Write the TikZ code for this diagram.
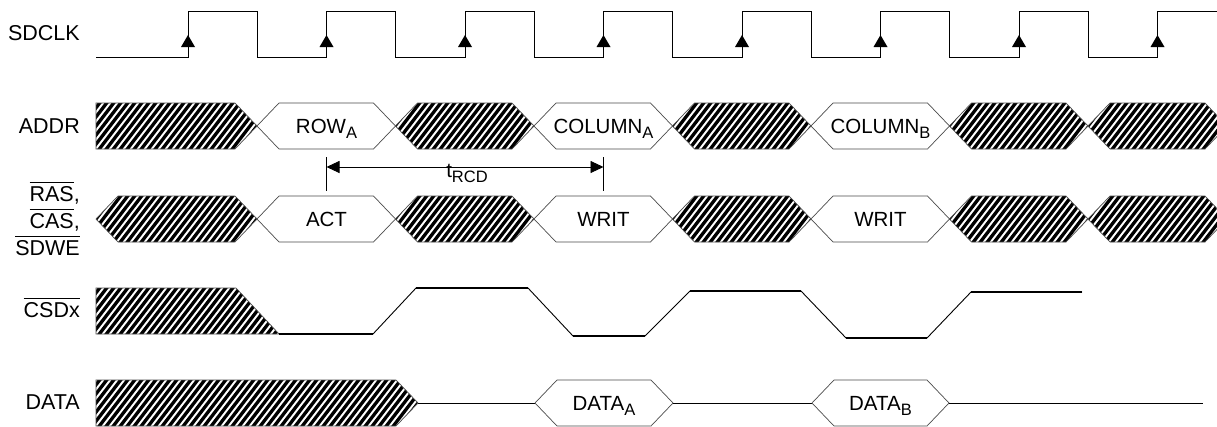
\documentclass[tikz,border=0pt]{standalone}
\usepackage{fontspec}
\setmainfont{Liberation Sans}
\usetikzlibrary{arrows.meta}
\newcommand\sub[1]{\raisebox{-0.28em}{\fontsize{16.5}{16.5}\selectfont #1}}
\newcommand\ovl[1]{\vbox{\hrule height 1.3pt\kern 2.6pt\hbox{#1}}}
\newcommand\hatchreg[4]{%
  \begin{scope}
    \clip #1;
    \pgfmathtruncatemacro\hsA{#2-48}\pgfmathtruncatemacro\hsB{\hsA+7}
    \foreach \i in {\hsA,\hsB,...,#3} \draw[hatchln] (\i,#4+26) -- ++(40,-52);
  \end{scope}
  \draw[outl] #1;}
\newcommand\hathex[3]{\hatchreg{(#1,#3) -- ({#1+22},{#3-23}) -- ({#2-22},{#3-23}) -- (#2,#3) -- ({#2-22},{#3+23}) -- ({#1+22},{#3+23}) -- cycle}{#1}{#2}{#3}}
\newcommand\whitehex[3]{\draw[outl] (#1,#3) -- ({#1+22},{#3-23}) -- ({#2-22},{#3-23}) -- (#2,#3) -- ({#2-22},{#3+23}) -- ({#1+22},{#3+23}) -- cycle;}
\newcommand\clkarrow[1]{\fill (#1,35) -- (#1-7,47) -- (#1+7,47) -- cycle;}
\tikzset{
  lbl/.style={font=\fontsize{20.5}{24}\selectfont, inner sep=0pt},
  sidelbl/.style={font=\fontsize{21.5}{24}\selectfont, inner sep=0pt, anchor=base east},
  outl/.style={line width=0.7pt, draw=black!70},
  hatchln/.style={line width=3.3pt, black},
  clk/.style={line width=1pt, black},
  thin/.style={line width=0.9pt, black},
  lvl/.style={line width=1.9pt, black},
}
\begin{document}
\begin{tikzpicture}[x=1pt,y=-1pt]
\useasboundingbox (0,0) rectangle (1217,426);
\fill[white] (0,0) rectangle (1217,426);

% labels
\node[sidelbl] (lsdclk) at (80,40) {SDCLK};
\node[sidelbl] (laddr) at (80,133) {ADDR};
\node[sidelbl] (lras) at (80,201) {\ovl{RAS},};
\node[sidelbl] (lcas) at (80,228) {\ovl{CAS},};
\node[sidelbl] (lsdwe) at (80,255) {\ovl{SDWE}};
\node[sidelbl] (lcsdx) at (80,317) {\ovl{CSDx}};
\node[sidelbl] (ldata) at (80,409) {DATA};

% SDCLK
\draw[clk] (96,57) -- (188,57) -- (188,11) -- (257,11) -- (257,57)
  -- (326.5,57) -- (326.5,11) -- (395.5,11) -- (395.5,57)
  -- (465,57) -- (465,11) -- (534,11) -- (534,57)
  -- (603.5,57) -- (603.5,11) -- (672.5,11) -- (672.5,57)
  -- (742,57) -- (742,11) -- (811,11) -- (811,57)
  -- (880.5,57) -- (880.5,11) -- (949.5,11) -- (949.5,57)
  -- (1019,57) -- (1019,11) -- (1088,11) -- (1088,57)
  -- (1157.5,57) -- (1157.5,11) -- (1217,11);
\clkarrow{188}\clkarrow{326.5}\clkarrow{465}\clkarrow{603.5}
\clkarrow{742}\clkarrow{880.5}\clkarrow{1019}\clkarrow{1157.5}

% ADDR
\hatchreg{(96,103) -- (235,103) -- (257,126) -- (235,149) -- (96,149) -- cycle}{96}{257}{126}
\whitehex{257}{395.5}{126}
\node[lbl,anchor=base] (rowa) at (326.5,133) {ROW\sub{A}};
\hathex{395.5}{534}{126}
\whitehex{534}{672.5}{126}
\node[lbl,anchor=base] (cola) at (603.5,133) {COLUMN\sub{A}};
\hathex{672.5}{811}{126}
\whitehex{811}{949.5}{126}
\node[lbl,anchor=base] (colb) at (880.5,133) {COLUMN\sub{B}};
\hathex{949.5}{1088}{126}
\hathex{1088}{1227}{126}

% tRCD
\coordinate (ta) at (326.5,167);
\coordinate (tb) at (603.5,167);
\draw[thin] (326.5,157) -- (326.5,191);
\draw[thin] (603.5,157) -- (603.5,191);
\draw[thin,{Triangle[length=13pt,width=12pt]}-{Triangle[length=13pt,width=12pt]}] (ta) -- (tb);
\node[lbl,anchor=base] (trcd) at (467,177) {t\sub{RCD}};

% RAS/CAS/SDWE
\hathex{96}{257}{219}
\whitehex{257}{395.5}{219}
\node[lbl,anchor=base] (act) at (326.5,226) {ACT};
\hathex{395.5}{534}{219}
\whitehex{534}{672.5}{219}
\node[lbl,anchor=base] (writa) at (603.5,226) {WRIT};
\hathex{672.5}{811}{219}
\whitehex{811}{949.5}{219}
\node[lbl,anchor=base] (writb) at (880.5,226) {WRIT};
\hathex{949.5}{1088}{219}
\hathex{1088}{1227}{219}

% CSDx
\hatchreg{(96,288) -- (236,288) -- (279,334) -- (96,334) -- cycle}{96}{279}{311}
\draw[thin] (279,334) -- (373,334) -- (416,288) -- (528,288) -- (573,336) -- (645,336)
  -- (690,291) -- (801,291) -- (846,338) -- (927,338) -- (971,292) -- (1082,292);
\draw[lvl] (279,334) -- (373,334);
\draw[lvl] (416,288) -- (528,288);
\draw[lvl] (573,336) -- (645,336);
\draw[lvl] (690,291) -- (801,291);
\draw[lvl] (846,338) -- (927,338);
\draw[lvl] (971,292) -- (1082,292);

% DATA
\hatchreg{(96,380) -- (396,380) -- (418,403) -- (396,426) -- (96,426) -- cycle}{96}{418}{403}
\draw[thin] (418,403) -- (535,403);
\whitehex{535}{673}{403}
\node[lbl,anchor=base] (dataa) at (604,410) {DATA\sub{A}};
\draw[thin] (673,403) -- (812,403);
\whitehex{812}{949}{403}
\node[lbl,anchor=base] (datab) at (880.5,410) {DATA\sub{B}};
\draw[thin] (949,403) -- (1203,403);
\end{tikzpicture}
\end{document}
